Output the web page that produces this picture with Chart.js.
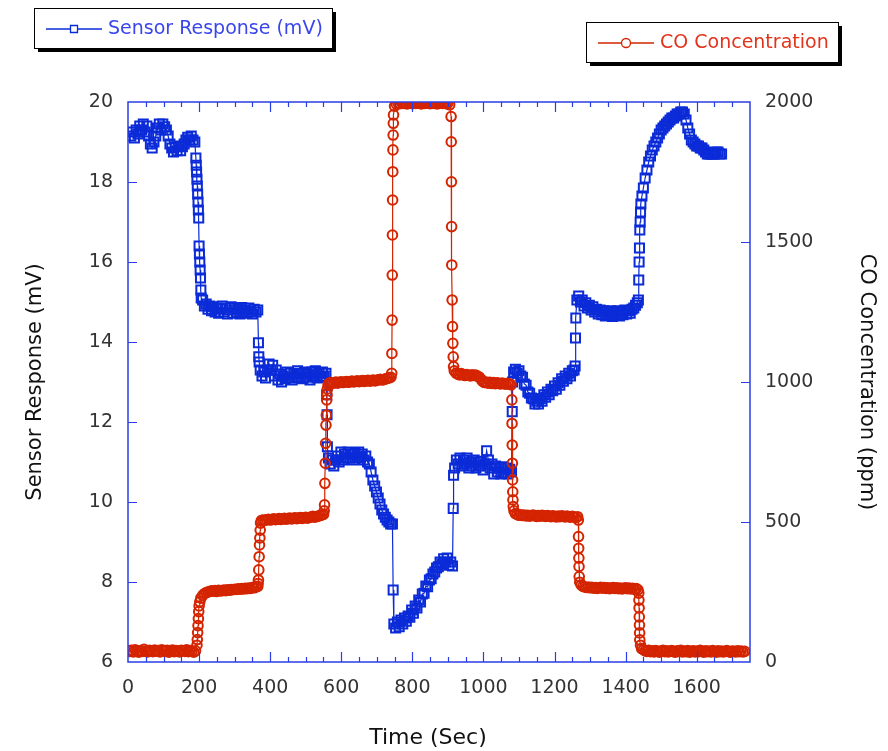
<!DOCTYPE html>
<html>
<head>
<meta charset="utf-8">
<title>Sensor Response vs CO Concentration</title>
<script src="https://cdn.jsdelivr.net/npm/chart.js@4.4.1/dist/chart.umd.min.js"></script>
<style>
  html, body { margin: 0; padding: 0; background: #fff; }
  canvas { display: block; }
</style>
</head>
<body>
<canvas id="chart" width="888" height="751"></canvas>
<script>
// ================== Data ==================
// Sensor response, seconds -> mV
const sensorTime = [
  8,13,18,23,28,33,38,43,48,53,58,63,68,73,78,83,88,93,98,103,108,113,118,123,128,133,138,143,148,153,158,163,168,173,178,183,188,
  191,192,193,194,195,196,197,198,199,200,201,202,203,204,205,206,
  210,215,220,225,230,235,240,245,250,255,260,265,270,275,280,285,290,295,300,305,310,315,320,325,330,335,340,345,350,355,360,365,
  367,368,369,
  372,377,382,387,392,397,402,407,412,417,422,427,432,437,442,447,452,457,462,467,472,477,482,487,492,497,502,507,512,517,522,527,532,537,542,547,552,557,
  559,560,561,
  564,569,574,579,584,589,594,599,604,609,614,619,624,629,634,639,644,649,654,659,664,669,674,
  679,684,689,694,699,704,709,714,719,724,729,734,739,744,
  746,
  748,753,758,763,768,773,778,783,788,793,798,803,808,813,818,823,828,833,838,843,848,853,858,863,868,873,878,883,888,893,898,903,908,913,
  915,916,
  919,924,929,934,939,944,949,954,959,964,969,974,979,984,989,994,999,1004,1009,1014,1019,1024,1029,1034,1039,1044,1049,1054,1059,1064,1069,1074,1079,
  1081,1082,
  1085,1090,1095,1100,1105,1110,1115,1120,1125,1130,1135,1140,1145,1150,1155,1160,1165,1170,1175,1180,1185,1190,1195,1200,1205,1210,1215,1220,1225,1230,1235,1240,1245,1250,1255,
  1258,1259,1260,
  1263,1268,1273,1278,1283,1288,1293,1298,1303,1308,1313,1318,1323,1328,1333,1338,1343,1348,1353,1358,1363,1368,1373,1378,1383,1388,1393,1398,1403,1408,1413,1418,1423,1428,1433,
  1436,1437,1438,1439,1440,1441,1442,1443,
  1446,1450,1455,1460,1465,1470,1475,1480,1485,1490,1495,1500,1505,1510,1515,1520,1525,1530,1535,1540,1545,1550,1555,1560,1565,1570,1575,1580,1585,1590,1595,1600,1605,1610,1615,1620,1625,1630,1635,1640,1645,1650,1655,1660,1665,1670
];
const sensorMv = [
  19.15,19.25,19.1,19.3,19.2,19.4,19.3,19.45,19.25,19.4,19.15,18.95,18.85,19.0,19.15,19.35,19.45,19.3,19.45,19.38,19.3,19.15,18.95,18.85,18.75,18.88,18.78,18.9,18.78,18.88,18.95,19.05,19.12,19.05,19.15,19.05,19.0,
  18.6,18.42,18.25,18.07,17.9,17.7,17.5,17.3,17.1,16.4,16.2,16.0,15.8,15.6,15.3,15.1,
  15.05,14.9,14.95,14.82,14.9,14.78,14.88,14.75,14.85,14.72,14.82,14.9,14.75,14.85,14.7,14.8,14.88,14.72,14.85,14.75,14.82,14.7,14.86,14.74,14.8,14.72,14.85,14.76,14.7,14.82,14.75,14.8,
  13.98,13.63,13.5,
  13.3,13.15,13.25,13.1,13.3,13.45,13.3,13.42,13.15,13.3,13.05,13.2,13.0,13.15,13.08,13.25,13.1,13.22,13.05,13.2,13.12,13.28,13.1,13.22,13.08,13.25,13.12,13.2,13.05,13.25,13.15,13.28,13.1,13.22,13.12,13.25,13.15,13.22,
  12.68,12.18,11.38,
  11.1,10.95,11.05,10.9,11.05,11.15,11.0,11.25,11.05,11.2,11.1,11.25,11.1,11.2,11.05,11.22,11.1,11.25,11.12,11.2,11.05,11.15,11.0,
  10.95,10.75,10.55,10.4,10.25,10.1,9.95,9.8,9.7,9.62,9.55,9.5,9.45,9.45,
  7.8,
  6.95,6.85,7.0,6.88,7.05,6.95,7.1,7.02,7.15,7.12,7.3,7.22,7.4,7.35,7.55,7.5,7.7,7.72,7.9,7.88,8.05,8.08,8.2,8.25,8.35,8.38,8.5,8.45,8.58,8.5,8.6,8.42,8.5,8.4,
  9.84,10.67,
  10.85,11.05,10.95,11.1,10.9,11.05,10.95,11.1,10.85,11.0,10.9,11.05,10.85,11.0,10.9,11.02,10.8,10.95,11.28,11.05,10.85,10.95,10.7,10.9,10.75,10.85,10.7,10.88,10.72,10.85,10.7,10.82,10.75,
  12.26,13.0,
  13.25,13.32,13.22,13.28,13.15,13.12,12.95,12.92,12.75,12.72,12.6,12.58,12.45,12.52,12.45,12.58,12.52,12.68,12.62,12.75,12.68,12.82,12.78,12.9,12.82,12.98,12.92,13.08,13.02,13.15,13.08,13.22,13.15,13.28,13.3,
  13.4,14.1,14.6,
  15.05,15.15,15.0,15.05,14.9,14.98,14.85,14.92,14.8,14.88,14.75,14.82,14.7,14.8,14.68,14.78,14.65,14.75,14.68,14.78,14.64,14.74,14.68,14.78,14.65,14.75,14.68,14.8,14.7,14.78,14.72,14.82,14.85,14.92,14.98,
  15.05,15.55,16.0,16.35,16.8,17.0,17.25,17.45,
  17.65,17.85,18.1,18.3,18.5,18.65,18.8,18.9,19.0,19.1,19.2,19.3,19.35,19.4,19.45,19.5,19.55,19.6,19.6,19.65,19.7,19.7,19.75,19.75,19.7,19.55,19.35,19.2,19.05,19.0,18.95,18.9,18.9,18.85,18.85,18.8,18.75,18.7,18.7,18.7,18.7,18.7,18.75,18.75,18.7,18.7
];

// CO concentration, seconds -> ppm
const coTime = [
  0,5,10,15,20,25,30,35,40,45,50,55,60,65,70,75,80,85,90,95,100,105,110,115,120,125,130,135,140,145,150,155,160,165,170,175,180,185,190,
  194,195,196,197,198,199,200,202,
  205,210,215,220,225,230,235,240,245,250,255,260,265,270,275,280,285,290,295,300,305,310,315,320,325,330,335,340,345,350,355,360,365,
  366,367,368,369,370,371,372,373,
  375,380,385,390,395,400,405,410,415,420,425,430,435,440,445,450,455,460,465,470,475,480,485,490,495,500,505,510,515,520,525,530,535,540,545,550,
  552,553,554,555,556,557,558,559,560,561,563,566,
  570,575,580,585,590,595,600,605,610,615,620,625,630,635,640,645,650,655,660,665,670,675,680,685,690,695,700,705,710,715,720,725,730,735,740,
  742,742.5,743,743.5,744,744.5,745,745.5,746,746.5,747,
  750,755,760,765,770,775,780,785,790,795,800,805,810,815,820,825,830,835,840,845,850,855,860,865,870,875,880,885,890,895,900,905,
  909,909.5,910,910.5,911,912,913,914,915,916,
  918,923,928,933,938,943,948,953,958,963,968,973,978,983,988,993,998,1003,1008,1013,1018,1023,1028,1033,1038,1043,1048,1053,1058,1063,1068,1073,1078,
  1080,1080.5,1081,1081.5,1082,1082.5,1083,1084,1086,
  1090,1095,1100,1105,1110,1115,1120,1125,1130,1135,1140,1145,1150,1155,1160,1165,1170,1175,1180,1185,1190,1195,1200,1205,1210,1215,1220,1225,1230,1235,1240,1245,1250,1255,1260,1265,
  1267,1267.5,1268,1268.5,1269,1269.5,1271,
  1275,1280,1285,1290,1295,1300,1305,1310,1315,1320,1325,1330,1335,1340,1345,1350,1355,1360,1365,1370,1375,1380,1385,1390,1395,1400,1405,1410,1415,1420,1425,1430,1435,
  1437,1437.5,1438,1438.5,1439,1439.5,1440,1442,1445,
  1450,1455,1460,1465,1470,1475,1480,1485,1490,1495,1500,1505,1510,1515,1520,1525,1530,1535,1540,1545,1550,1555,1560,1565,1570,1575,1580,1585,1590,1595,1600,1605,1610,1615,1620,1625,1630,1635,1640,1645,1650,1655,1660,1665,1670,1675,1680,1685,1690,1695,1700,1705,1710,1715,1720,1725,1730,1735
];
const coPpm = [
  40,38,42,36,44,40,35,41,38,45,39,36,42,40,37,43,39,41,36,44,40,38,42,35,40,43,37,41,39,36,42,40,38,44,37,41,39,35,40,
  60,80,105,130,155,180,200,215,
  228,238,244,248,250,252,254,253,255,252,256,254,255,257,255,258,256,259,258,260,259,261,260,262,261,263,262,264,263,266,265,268,270,
  280,293,329,376,418,443,471,496,
  505,507,506,508,510,507,509,511,508,510,512,509,511,513,510,512,514,511,513,515,512,514,516,513,515,517,514,516,518,520,517,519,521,523,525,527,
  540,561,638,710,781,846,882,936,954,975,990,995,
  998,995,997,1000,996,999,1001,998,1000,1002,999,1001,1003,1000,1002,1004,1001,1003,1005,1002,1004,1006,1003,1005,1007,1004,1006,1008,1010,1007,1009,1011,1013,1015,1017,
  1031,1102,1221,1382,1525,1650,1751,1829,1882,1924,1954,
  1985,1992,1996,1994,1998,1995,1997,1993,1996,1999,1994,1997,1995,1998,1996,1993,1997,1995,1999,1996,1994,1998,1995,1997,1993,1996,1998,1995,1997,1994,1996,1990,
  1948,1858,1715,1555,1418,1293,1198,1138,1090,1055,
  1040,1032,1028,1025,1030,1026,1023,1027,1024,1022,1026,1023,1025,1021,1018,1010,1002,998,1000,996,999,995,998,994,997,995,993,996,994,992,995,993,990,
  936,852,775,710,650,608,579,555,540,
  530,527,524,526,523,525,522,524,521,523,525,522,520,523,521,524,522,520,523,521,519,522,520,518,521,519,522,520,518,521,519,517,520,518,516,519,
  507,448,406,371,341,305,285,
  275,270,268,266,268,265,267,264,266,263,265,267,264,266,263,265,262,264,266,263,265,262,264,261,263,265,262,264,261,263,260,262,258,
  246,221,193,161,132,104,79,60,48,
  44,40,38,42,37,40,36,41,38,35,39,42,37,40,36,39,41,37,35,40,38,42,36,39,37,41,35,38,40,36,39,37,42,38,35,40,37,39,36,41,38,35,40,37,39,36,38,41,37,35,39,38,36,40,37,39,36,38
];

// tick labels
const timeTicks = [0, 200, 400, 600, 800, 1000, 1200, 1400, 1600];
const mvTicks = [6, 8, 10, 12, 14, 16, 18, 20];
const ppmTicks = [0, 500, 1000, 1500, 2000];

// ================== Styling ==================
const BLUE = '#0b2bd8';
const RED = '#d42400';
const AXIS = '#2a3ee6';
const FONT = '"DejaVu Sans", "Liberation Sans", sans-serif';

const sensorPoints = sensorTime.map((t, i) => ({ x: t, y: sensorMv[i] }));
const coPoints = coTime.map((t, i) => ({ x: t, y: coPpm[i] }));

// frame, inward ticks, x title and the two boxed keys
const decorations = {
  id: 'decorations',
  afterDatasetsDraw(chart) {
    const { ctx, chartArea: a, scales } = chart;
    ctx.save();
    ctx.strokeStyle = AXIS;
    ctx.lineWidth = 1.5;
    ctx.strokeRect(a.left, a.top, a.right - a.left, a.bottom - a.top);

    ctx.lineWidth = 1.2;
    ctx.beginPath();
    // time ticks, bottom and top (minor every 50 s)
    for (let v = 50; v < scales.x.max; v += 50) {
      const px = Math.round(scales.x.getPixelForValue(v)) + 0.5;
      const len = v % 200 === 0 ? 10 : 5;
      ctx.moveTo(px, a.bottom); ctx.lineTo(px, a.bottom - len);
      ctx.moveTo(px, a.top); ctx.lineTo(px, a.top + len);
    }
    mvTicks.slice(1, -1).forEach(v => {
      const py = Math.round(scales.y.getPixelForValue(v)) + 0.5;
      ctx.moveTo(a.left, py); ctx.lineTo(a.left + 9, py);
    });
    ppmTicks.slice(1, -1).forEach(v => {
      const py = Math.round(scales.y2.getPixelForValue(v)) + 0.5;
      ctx.moveTo(a.right, py); ctx.lineTo(a.right - 9, py);
    });
    ctx.stroke();
    ctx.restore();
  },
  afterDraw(chart) {
    const { ctx } = chart;
    ctx.save();
    ctx.fillStyle = '#111';
    ctx.font = '22px ' + FONT;
    ctx.textAlign = 'center';
    ctx.textBaseline = 'middle';
    ctx.fillText('Time (Sec)', 428, 738);

    drawKey(ctx, { x: 34, y: 8, w: 298, h: 40 }, BLUE, '#3a46ec', 'rect', 'Sensor Response (mV)');
    drawKey(ctx, { x: 586, y: 22, w: 252, h: 40 }, RED, '#e2341c', 'circle', 'CO Concentration');
    ctx.restore();
  }
};

function drawKey(ctx, box, color, textColor, marker, text) {
  ctx.fillStyle = '#000';
  ctx.fillRect(box.x + 4, box.y + 4, box.w, box.h);
  ctx.fillStyle = '#fff';
  ctx.fillRect(box.x, box.y, box.w, box.h);
  ctx.strokeStyle = '#000';
  ctx.lineWidth = 1;
  ctx.strokeRect(box.x + 0.5, box.y + 0.5, box.w, box.h);

  const cy = box.y + box.h / 2 + 1;
  const x0 = box.x + 12, x1 = box.x + 68, mx = (x0 + x1) / 2;
  ctx.strokeStyle = color;
  ctx.lineWidth = 1.3;
  ctx.beginPath();
  ctx.moveTo(x0, cy); ctx.lineTo(x1, cy);
  ctx.stroke();
  ctx.fillStyle = '#fff';
  ctx.beginPath();
  if (marker === 'rect') ctx.rect(mx - 3.5, cy - 3.5, 7, 7);
  else ctx.arc(mx, cy, 4.5, 0, Math.PI * 2);
  ctx.fill();
  ctx.stroke();

  ctx.fillStyle = textColor;
  ctx.font = '19px ' + FONT;
  ctx.textAlign = 'left';
  ctx.textBaseline = 'middle';
  ctx.fillText(text, x1 + 6, cy);
}

const plainNumber = v => String(v);

// ================== Chart ==================
new Chart(document.getElementById('chart'), {
  type: 'scatter',
  data: {
    datasets: [
      {
        label: 'CO Concentration',
        data: coPoints,
        yAxisID: 'y2',
        showLine: true,
        borderColor: RED,
        borderWidth: 1.2,
        pointStyle: 'circle',
        pointRadius: 4.8,
        pointBorderWidth: 2,
        pointBorderColor: RED,
        pointBackgroundColor: 'rgba(255,255,255,0)'
      },
      {
        label: 'Sensor Response (mV)',
        data: sensorPoints,
        yAxisID: 'y',
        showLine: true,
        borderColor: BLUE,
        borderWidth: 1.2,
        pointStyle: 'rect',
        pointRadius: 6.4,
        pointBorderWidth: 2,
        pointBorderColor: BLUE,
        pointBackgroundColor: 'rgba(255,255,255,0)'
      }
    ]
  },
  options: {
    responsive: false,
    animation: false,
    devicePixelRatio: 1,
    layout: { padding: { top: 102, left: 0, right: 0, bottom: 0 } },
    plugins: {
      legend: { display: false },
      tooltip: { enabled: false }
    },
    scales: {
      x: {
        type: 'linear',
        min: 0,
        max: 1750,
        afterBuildTicks: s => { s.ticks = timeTicks.map(v => ({ value: v })); },
        afterFit: s => { s.height = 89; },
        grid: { display: false, drawTicks: false },
        border: { display: false },
        ticks: { autoSkip: false, maxRotation: 0, padding: 15, color: '#333', font: { family: FONT, size: 19 }, callback: plainNumber },
        title: { display: false }
      },
      y: {
        position: 'left',
        min: 6,
        max: 20,
        afterBuildTicks: s => { s.ticks = mvTicks.map(v => ({ value: v })); },
        afterFit: s => { s.width = 128; },
        grid: { display: false, drawTicks: false },
        border: { display: false },
        ticks: { padding: 15, color: '#333', font: { family: FONT, size: 19 }, callback: plainNumber },
        title: {
          display: true,
          text: 'Sensor Response (mV)',
          color: '#111',
          font: { family: FONT, size: 21 },
          padding: { top: 23, bottom: 0 }
        }
      },
      y2: {
        position: 'right',
        min: 0,
        max: 2000,
        afterBuildTicks: s => { s.ticks = ppmTicks.map(v => ({ value: v })); },
        afterFit: s => { s.width = 138; },
        grid: { display: false, drawTicks: false },
        border: { display: false },
        ticks: { padding: 15, color: '#333', font: { family: FONT, size: 19 }, callback: plainNumber },
        title: {
          display: true,
          text: 'CO Concentration (ppm)',
          color: '#111',
          font: { family: FONT, size: 21 },
          padding: { top: 9, bottom: 0 }
        }
      }
    }
  },
  plugins: [decorations]
});
</script>
</body>
</html>
